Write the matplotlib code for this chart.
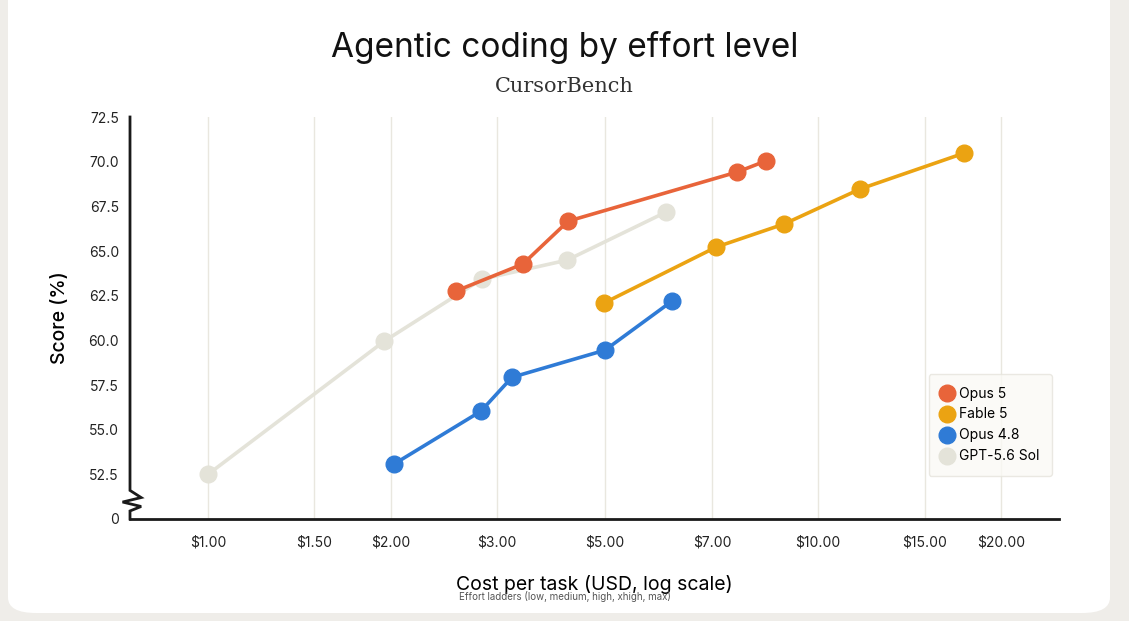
import matplotlib.pyplot as plt
import numpy as np
from matplotlib.patches import FancyBboxPatch

plt.rcParams["font.family"] = ["Inter", "DejaVu Sans"]

# cost ticks (USD) and their spacing on the chart (not a true log scale)
tick_costs = [1.0, 1.5, 2.0, 3.0, 5.0, 7.0, 10.0, 15.0, 20.0]
tick_pos = [208, 314, 391, 497, 605, 712, 818, 925, 1001]
tick_labels = ["$1.00", "$1.50", "$2.00", "$3.00", "$5.00", "$7.00", "$10.00", "$15.00", "$20.00"]

opus5_cost = [2.56, 3.39, 4.20, 7.62, 8.39]
opus5_score = [62.75, 64.27, 66.67, 69.42, 70.04]
fable5_cost = [4.97, 7.10, 8.92, 11.73, 17.4]
fable5_score = [62.08, 65.22, 66.51, 68.47, 70.48]
opus48_cost = [2.02, 2.82, 3.22, 5.0, 6.17]
opus48_score = [53.06, 56.03, 57.93, 59.45, 62.19]
gpt_cost = [1.00, 1.95, 2.83, 4.18, 6.06]
gpt_score = [52.5, 59.95, 63.42, 64.49, 67.18]

SERIES = [
    ("GPT-5.6 Sol", gpt_cost, gpt_score, "#e4e3d9"),
    ("Opus 4.8", opus48_cost, opus48_score, "#2f7bd6"),
    ("Fable 5", fable5_cost, fable5_score, "#eba312"),
    ("Opus 5", opus5_cost, opus5_score, "#e8643a"),
]
LEGEND_ORDER = ["Opus 5", "Fable 5", "Opus 4.8", "GPT-5.6 Sol"]

LT = np.log(tick_costs)
PT = np.array(tick_pos, float)


def fwd(x):
    lx = np.log(np.clip(np.asarray(x, float), 1e-6, None))
    y = np.interp(lx, LT, PT)
    s0 = (PT[1] - PT[0]) / (LT[1] - LT[0])
    s1 = (PT[-1] - PT[-2]) / (LT[-1] - LT[-2])
    y = np.where(lx < LT[0], PT[0] + (lx - LT[0]) * s0, y)
    y = np.where(lx > LT[-1], PT[-1] + (lx - LT[-1]) * s1, y)
    return y


def inv(p):
    p = np.asarray(p, float)
    lx = np.interp(p, PT, LT)
    s0 = (LT[1] - LT[0]) / (PT[1] - PT[0])
    s1 = (LT[-1] - LT[-2]) / (PT[-1] - PT[-2])
    lx = np.where(p < PT[0], LT[0] + (p - PT[0]) * s0, lx)
    lx = np.where(p > PT[-1], LT[-1] + (p - PT[-1]) * s1, lx)
    return np.exp(lx)


fig = plt.figure(figsize=(11.29, 6.21), dpi=100)
fig.patch.set_facecolor("#efede9")
card = FancyBboxPatch((8 / 1129, 8 / 621), 1102 / 1129, 640 / 621,
                      boxstyle="round,pad=0,rounding_size=0.025",
                      transform=fig.transFigure, facecolor="white",
                      edgecolor="none", zorder=-10)
fig.patches.append(card)

ax = fig.add_axes([130 / 1129, 1 - 519 / 621, 929 / 1129, 402 / 621])
ax.set_zorder(2)
ax.set_facecolor("none")
ax.set_xscale("function", functions=(fwd, inv))
ax.set_xlim(float(inv(130)), float(inv(1059)))
ax.set_ylim(50, 72.5)

for c in tick_costs:
    ax.axvline(c, color="#e9e7df", lw=1, zorder=1)

for name, xs, ys, col in SERIES:
    ax.plot(xs, ys, "-o", color=col, lw=2.6, markersize=12, label=name, zorder=3)

ax.set_xticks(tick_costs)
ax.set_xticklabels(tick_labels)
ax.xaxis.set_minor_locator(plt.NullLocator())
yt = [50, 52.5, 55, 57.5, 60, 62.5, 65, 67.5, 70, 72.5]
ax.set_yticks(yt)
ax.set_yticklabels(["0"] + [f"{v:.1f}" for v in yt[1:]])
ax.tick_params(length=0, labelsize=10, colors="#222222", pad=8)
ax.tick_params(axis="x", pad=12)

for s in ["top", "right", "left"]:
    ax.spines[s].set_visible(False)
ax.spines["bottom"].set_linewidth(2)
ax.spines["bottom"].set_color("#1a1a1a")

# left axis with a break
yb = [72.5, 51.6, 51.2, 50.95, 50.7, 50.45, 50.0]
xb = [0, 0, 0.012, -0.008, 0.012, 0, 0]
ax.plot(xb, yb, color="#1a1a1a", lw=2, transform=ax.get_yaxis_transform(),
        clip_on=False, zorder=4, solid_joinstyle="miter")

ax.set_ylabel("Score (%)", fontsize=14, labelpad=14, fontweight="medium")
ax.set_xlabel("Cost per task (USD, log scale)", fontsize=14, labelpad=18)
fig.text(0.5, 1 - 597 / 621, "Effort ladders (low, medium, high, xhigh, max)",
         ha="center", va="center", fontsize=7, color="#555555")
fig.text(0.5, 1 - 47 / 621, "Agentic coding by effort level", ha="center",
         va="center", fontsize=24, color="#111111")
fig.text(0.5, 1 - 86 / 621, "CursorBench", ha="center", va="center",
         fontsize=15, family="DejaVu Serif", color="#333333")

handles, labels = ax.get_legend_handles_labels()
hmap = dict(zip(labels, handles))
leg = ax.legend([hmap[n] for n in LEGEND_ORDER], LEGEND_ORDER,
                loc="lower right", bbox_to_anchor=(1.0, 0.09), fontsize=10,
                frameon=True, fancybox=True, facecolor="#faf9f5",
                edgecolor="#e6e4dc", borderpad=0.9, handlelength=0.8,
                handletextpad=0.5, labelspacing=0.5)
for h in leg.legend_handles:
    h.set_linestyle("none")
leg.get_frame().set_linewidth(1)

fig.savefig("out.png", dpi=100, facecolor=fig.get_facecolor())
